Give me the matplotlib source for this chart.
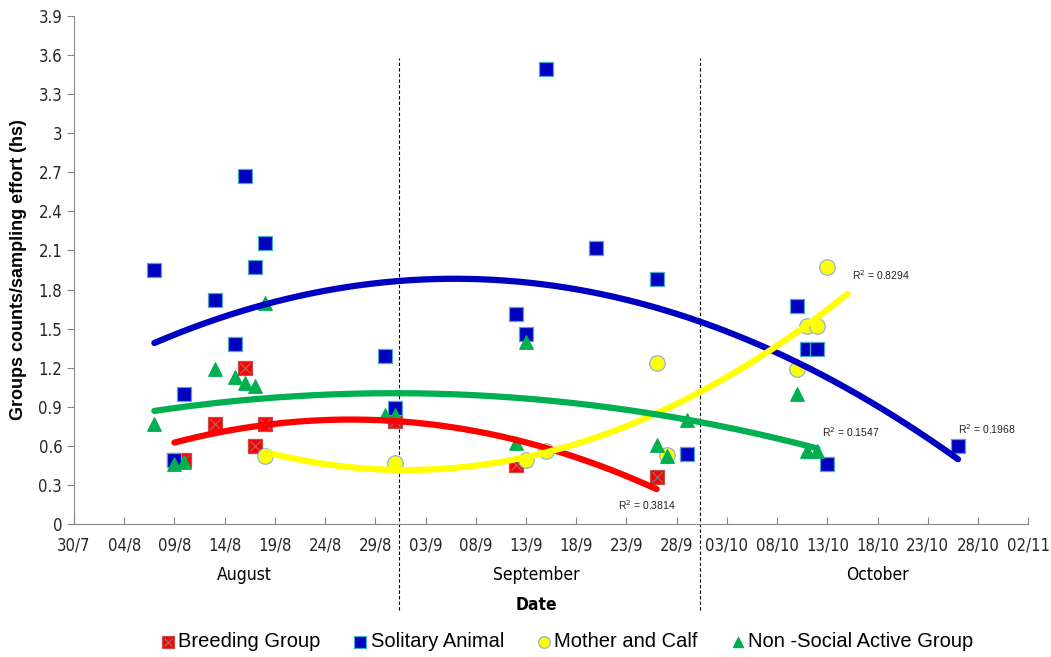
import datetime as dt
import numpy as np
import matplotlib
matplotlib.use("Agg")
import matplotlib.pyplot as plt
import matplotlib.dates as mdates
from matplotlib.transforms import blended_transform_factory
from matplotlib.legend_handler import HandlerTuple

plt.rcParams['font.family'] = ['Liberation Sans', 'DejaVu Sans']

YEAR = 2012

# observations: (day/month, groups per sampling hour)
breeding_dates = ["09/8", "10/8", "13/8", "16/8", "17/8", "18/8", "31/8", "12/9", "26/9"]
breeding_vals = [0.49, 0.49, 0.77, 1.20, 0.60, 0.77, 0.79, 0.45, 0.36]

solitary_dates = ["07/8", "09/8", "10/8", "13/8", "15/8", "16/8", "17/8", "18/8", "30/8", "31/8",
                  "12/9", "13/9", "15/9", "20/9", "26/9", "29/9",
                  "10/10", "11/10", "12/10", "13/10", "26/10"]
solitary_vals = [1.95, 0.49, 1.00, 1.72, 1.38, 2.67, 1.97, 2.16, 1.29, 0.89,
                 1.61, 1.46, 3.49, 2.12, 1.88, 0.54,
                 1.67, 1.34, 1.34, 0.46, 0.60]

mother_dates = ["18/8", "31/8", "13/9", "15/9", "26/9", "27/9", "10/10", "11/10", "12/10", "13/10"]
mother_vals = [0.52, 0.47, 0.49, 0.56, 1.24, 0.53, 1.19, 1.52, 1.52, 1.97]

nonsocial_dates = ["07/8", "09/8", "10/8", "13/8", "15/8", "16/8", "17/8", "18/8", "30/8", "31/8",
                   "12/9", "13/9", "26/9", "27/9", "29/9", "10/10", "11/10", "12/10"]
nonsocial_vals = [0.77, 0.46, 0.48, 1.19, 1.13, 1.08, 1.06, 1.70, 0.84, 0.84,
                  0.62, 1.40, 0.61, 0.52, 0.80, 1.00, 0.56, 0.56]

names = ["Breeding Group", "Solitary Animal", "Mother and Calf", "Non -Social Active Group"]
r2_text = ["R$^2$ = 0.3814", "R$^2$ = 0.1968", "R$^2$ = 0.8294", "R$^2$ = 0.1547"]
forecast_days = [0, 0, 2, 0]

months = ["August", "September", "October"]
month_centres = ["16/8", "14/9", "18/10"]
dividers = ["31/8", "30/9"]


def to_num(s, hour=0):
    d, m = s.split("/")
    return mdates.date2num(dt.datetime(YEAR, int(m), int(d), hour))


narrow = dict(family="DejaVu Sans", fontstretch="condensed")

fig = plt.figure(figsize=(10.51, 6.57), dpi=100)
ax = fig.add_axes([0.0704, 0.2024, 0.908, 0.7732])

colors = ["#ff0000", "#0000c0", "#ffff00", "#00b050"]
edges = ["#c0504d", "#4bacc6", "#8db3e2", "#00b050"]
markers = ["s", "s", "o", "^"]
sizes = [115, 115, 125, 95]
series = [(breeding_dates, breeding_vals), (solitary_dates, solitary_vals),
          (mother_dates, mother_vals), (nonsocial_dates, nonsocial_vals)]

handles = []
for i, (ds, vs) in enumerate(series):
    x = np.array([to_num(s) for s in ds])
    y = np.array(vs)
    h = ax.scatter(x, y, s=sizes[i], marker=markers[i], c=colors[i],
                   edgecolors=edges[i], linewidths=0.9, zorder=3 + i)
    if i == 0:
        hx = ax.scatter(x, y, s=55, marker="x", c="#7f7f7f", linewidths=0.8, zorder=3)
        h = (h, hx)
    handles.append(h)

# polynomial (order 2) trend lines, drawn on top
r2_pos = []
for i, (ds, vs) in enumerate(series):
    x = np.array([to_num(s) for s in ds])
    y = np.array(vs)
    x0 = x.min()
    coef = np.polyfit(x - x0, y, 2)
    xx = np.linspace(x.min(), x.max() + forecast_days[i], 200)
    yy = np.polyval(coef, xx - x0)
    ax.plot(xx, yy, color=colors[i], lw=4.5, solid_capstyle="round", zorder=10)
    r2_pos.append((xx[-1], yy[-1]))

offsets = [(-28, -15), (0, 18), (3, 10), (3, 8)]
for i, (xe, ye) in enumerate(r2_pos):
    ax.annotate(r2_text[i], (xe, ye), xytext=offsets[i], textcoords="offset points",
                fontsize=7.5, color="#222222", zorder=12)

ax.set_xlim(to_num("30/7"), to_num("02/11"))
ax.set_ylim(0, 3.9)
ax.set_yticks(np.arange(0, 3.91, 0.3))
ax.yaxis.set_major_formatter(plt.FuncFormatter(lambda v, p: "%g" % round(v, 1)))
ticks = np.arange(to_num("30/7"), to_num("02/11") + 1, 5)
ax.set_xticks(ticks)
ax.set_xticklabels(["%02d/%d" % (mdates.num2date(t).day, mdates.num2date(t).month) for t in ticks])

for sp in ["top", "right"]:
    ax.spines[sp].set_visible(False)
for sp in ["left", "bottom"]:
    ax.spines[sp].set_color("#868686")
ax.tick_params(axis="both", colors="#868686", labelcolor="#262626", length=5,
               labelsize=12)
ax.tick_params(axis="x", direction="in", pad=9)
for lab in ax.get_xticklabels() + ax.get_yticklabels():
    lab.set_family(narrow["family"])
    lab.set_fontstretch(narrow["fontstretch"])

ax.set_ylabel("Groups counts/sampling effort (hs)", fontsize=13, fontweight="bold", labelpad=8)

# month dividers run below the axis into the label band
for d in dividers:
    ax.axvline(to_num(d, 8), ymin=-0.169, ymax=0.917, color="black", lw=0.8,
               ls=(0, (3, 2)), clip_on=False, zorder=1)

trans = blended_transform_factory(ax.transData, ax.transAxes)
for m, c in zip(months, month_centres):
    ax.text(to_num(c), -0.100, m, transform=trans, ha="center", va="center",
            fontsize=12.5, **narrow)
ax.text(to_num("14/9"), -0.159, "Date", transform=trans, ha="center", va="center",
        fontsize=12.5, fontweight="bold", **narrow)

leg = fig.legend(handles, names, loc="center", bbox_to_anchor=(0.539, 0.023), ncol=4,
                 frameon=False, fontsize=14.5, handletextpad=0.1, handlelength=0.8,
                 columnspacing=1.6, markerscale=0.75,
                 handler_map={tuple: HandlerTuple(ndivide=1, pad=0)})

fig.savefig("out.png", dpi=100)
